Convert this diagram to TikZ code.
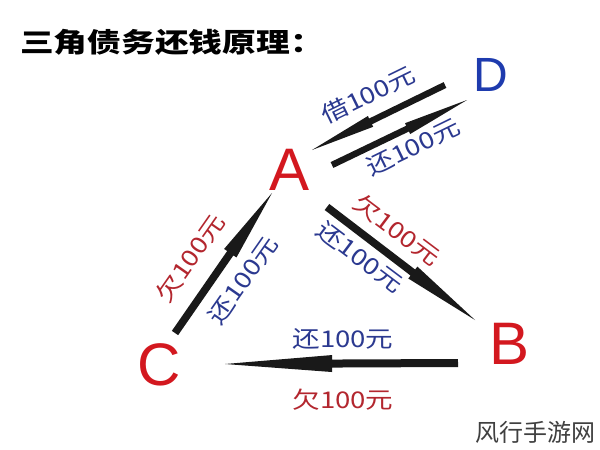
\documentclass[tikz,border=0pt]{standalone}
\usepackage{fontspec}
\setmainfont{Liberation Sans}
\newfontfamily\cjk{Noto Sans CJK SC}
\usetikzlibrary{calc}
\definecolor{letred}{HTML}{D3181F}
\definecolor{letblue}{HTML}{1E3BAE}
\definecolor{labred}{HTML}{B3262E}
\definecolor{labblue}{HTML}{2B3990}
\tikzset{
  letter/.style={inner sep=0pt, font=\fontsize{60}{60}\selectfont},
  lab/.style={inner sep=0pt, font=\cjk\fontsize{23}{23}\selectfont},
  arrowfill/.style={fill=black!90}
}
\newcommand\tarrow[5]{% tail, head, fraction, shaft half width, barb half width
  \coordinate (tmpm) at ($(#1)!#3!(#2)$);
  \fill[arrowfill] ($(#1)!#4!90:(#2)$) -- ($(tmpm)!#4!90:(#2)$) -- ($(tmpm)!#5!90:(#2)$)
     -- (#2) -- ($(tmpm)!#5!-90:(#2)$) -- ($(tmpm)!#4!-90:(#2)$) -- ($(#1)!#4!-90:(#2)$) -- cycle;
}
\newcommand\wlab[1]{\scalebox{1.2}[1]{#1}}
\begin{document}
\begin{tikzpicture}[x=1pt,y=-1pt]
\useasboundingbox[fill=white] (0,0) rectangle (600,450);
% title
\node[anchor=west, inner sep=0pt, font=\cjk\bfseries\fontsize{27}{27}\selectfont] (title) at (20,42) {\scalebox{1.25}[1]{三角债务还钱原理：}};
% letters
\node[letter, text=letred] (A) at (290,170) {A};
\node[letter, text=letred] (B) at (510,344) {B};
\node[letter, text=letred] (C) at (159,365) {C};
\node[letter, text=letblue, font=\fontsize{48}{48}\selectfont] (D) at (491,75) {D};
% arrow end points
\coordinate (daT) at (445,85);  \coordinate (daH) at (312,150);
\coordinate (adT) at (332,165); \coordinate (adH) at (467,100);
\coordinate (caT) at (175,333); \coordinate (caH) at (272,193);
\coordinate (abT) at (327,207); \coordinate (abH) at (475,320);
\coordinate (bcT) at (458,363); \coordinate (bcH) at (225,364);
% arrows
\tarrow{daT}{daH}{0.56}{3.2pt}{6pt}
\tarrow{adT}{adH}{0.56}{3.2pt}{6pt}
\tarrow{caT}{caH}{0.57}{3.8pt}{7.5pt}
\tarrow{abT}{abH}{0.58}{3.8pt}{7.5pt}
\tarrow{bcT}{bcH}{0.54}{4pt}{8.5pt}
% labels
\node[lab, text=labblue, rotate=26] (l1) at (368,95) {\wlab{借100元}};
\node[lab, text=labblue, rotate=26] (l2) at (413,147) {\wlab{还100元}};
\node[lab, text=labred, rotate=55] (l3) at (190,258) {\wlab{欠100元}};
\node[lab, text=labblue, rotate=55] (l4) at (243,280) {\wlab{还100元}};
\node[lab, text=labred, rotate=-37] (l5) at (397,230) {\wlab{欠100元}};
\node[lab, text=labblue, rotate=-37] (l6) at (360,257) {\wlab{还100元}};
\node[lab, text=labblue] (l7) at (343,339) {\wlab{还100元}};
\node[lab, text=labred] (l8) at (343,400) {\wlab{欠100元}};
% watermark
\node[inner sep=0pt, text=black!75, font=\cjk\fontsize{24}{24}\selectfont] (wm) at (535,432) {风行手游网};
\end{tikzpicture}
\end{document}
